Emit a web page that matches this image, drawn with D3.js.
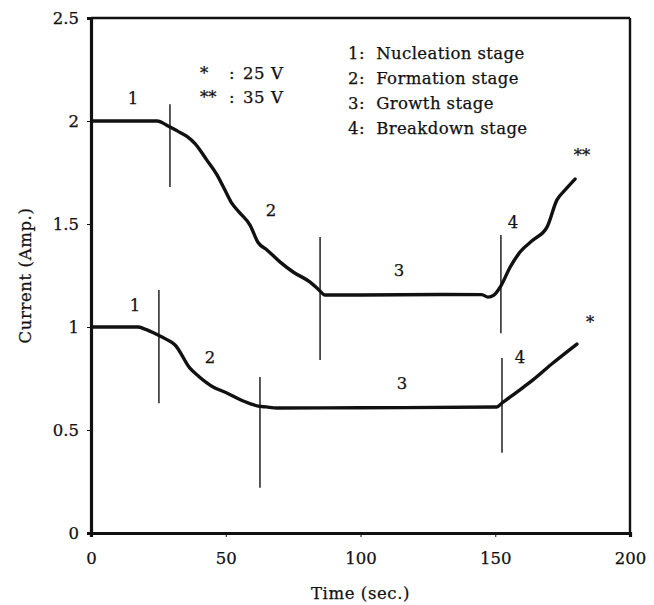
<!DOCTYPE html>
<html>
<head>
<meta charset="utf-8">
<script src="https://cdn.jsdelivr.net/npm/d3@7"></script>
<style>
  html, body { margin: 0; padding: 0; background: #fff; }
  svg { display: block; }
  text { font-family: "DejaVu Serif", "Liberation Serif", serif; fill: #111; stroke: #111; stroke-width: 0.25; }
</style>
</head>
<body>
<svg id="chart" width="654" height="605"></svg>
<script>
// Anodizing current vs time at two voltages
const xTicks = [0, 50, 100, 150, 200];
const yTicks = [0, 0.5, 1, 1.5, 2, 2.5];
const yTickLabels = ["0", "0.5", "1", "1.5", "2", "2.5"];

// 35 V run (time s, current A)
const series35V = [
  [0.5, 2.0], [24.5, 2.0], [28.6, 1.976], [32, 1.952], [35.6, 1.925], [38.6, 1.89],
  [43, 1.81], [46.7, 1.74], [49.7, 1.665], [52.3, 1.6], [55.3, 1.553], [59, 1.495],
  [62, 1.41], [65.3, 1.374], [70.1, 1.316], [75, 1.267], [81.3, 1.218], [84.6, 1.18],
  [86.8, 1.155], [100, 1.155], [130, 1.158], [145, 1.157], [147.3, 1.145],
  [149.5, 1.155], [152.1, 1.2], [155.5, 1.29], [159.2, 1.364], [164, 1.422],
  [169.2, 1.485], [172.9, 1.617], [175.9, 1.665], [179.6, 1.718]
];

// 25 V run (time s, current A)
const series25V = [
  [0.7, 1.0], [17.4, 1.0], [20, 0.99], [24.9, 0.961], [28, 0.94], [31.2, 0.913],
  [36.7, 0.8], [40, 0.76], [45.3, 0.709], [50.4, 0.68], [56.5, 0.641], [62, 0.616],
  [65, 0.612], [69, 0.607], [100, 0.608], [150.6, 0.612], [152.5, 0.631],
  [158, 0.684], [164, 0.743], [171.4, 0.825], [180.3, 0.917]
];

// stage boundaries: time and current span of each marker
const stageBounds = [
  { t: 29.3, from: 2.081, to: 1.68 },
  { t: 85, from: 1.437, to: 0.84 },
  { t: 152.1, from: 1.447, to: 0.97 },
  { t: 25.2, from: 1.18, to: 0.63 },
  { t: 62.7, from: 0.757, to: 0.22 },
  { t: 152.5, from: 0.85, to: 0.39 }
];

// stage numbers and run markers placed on the curves
const stageNumbers = [
  { text: "1", t: 15.6, v: 2.11 }, { text: "2", t: 66.8, v: 1.568 },
  { text: "3", t: 114.3, v: 1.277 }, { text: "4", t: 156.6, v: 1.51 },
  { text: "1", t: 16.3, v: 1.107 }, { text: "2", t: 44.2, v: 0.854 },
  { text: "3", t: 115.4, v: 0.728 }, { text: "4", t: 159.2, v: 0.854 }
];
const runMarks = [
  { text: "**", t: 182.2, v: 1.85 },
  { text: "*", t: 185.2, v: 1.04 }
];

const voltageKey = [
  { mark: "*", label: "25 V" },
  { mark: "**", label: "35 V" }
];
const stageKey = [
  "1:  Nucleation stage",
  "2:  Formation stage",
  "3:  Growth stage",
  "4:  Breakdown stage"
];

const FS = 16.5;
const svg = d3.select("#chart");
const margin = { left: 91, right: 24, top: 18, bottom: 72 };
const W = 654, H = 605;

const x = d3.scaleLinear().domain([0, 200]).range([margin.left, W - margin.right]);
const y = d3.scaleLinear().domain([0, 2.5]).range([H - margin.bottom, margin.top]);

// frame: heavy left/bottom axes, lighter top/right edges
svg.append("line").attr("x1", x(200)).attr("x2", x(200)).attr("y1", y(2.5)).attr("y2", y(0))
  .attr("stroke", "#111").attr("stroke-width", 2.4);
svg.append("line").attr("x1", x(0)).attr("x2", x(200)).attr("y1", y(2.5)).attr("y2", y(2.5))
  .attr("stroke", "#111").attr("stroke-width", 2.6);

const xAxis = d3.axisBottom(x).tickValues(xTicks).tickSize(4).tickPadding(15)
  .tickFormat(d3.format("d"));
const gx = svg.append("g").attr("transform", `translate(0,${y(0)})`).call(xAxis);
gx.select(".domain").attr("stroke", "#111").attr("stroke-width", 3.2);
gx.selectAll(".tick line").attr("stroke", "#111").attr("stroke-width", 1);
gx.selectAll(".tick text").attr("font-size", FS).attr("font-family", "DejaVu Serif")
  .attr("fill", "#111");

const yAxis = d3.axisLeft(y).tickValues(yTicks).tickSize(4).tickPadding(8)
  .tickFormat((d, i) => yTickLabels[i]);
const gy = svg.append("g").attr("transform", `translate(${x(0)},0)`).call(yAxis);
gy.select(".domain").attr("stroke", "#111").attr("stroke-width", 3.2);
gy.selectAll(".tick line").attr("stroke", "#111").attr("stroke-width", 1);
gy.selectAll(".tick text").attr("font-size", FS).attr("font-family", "DejaVu Serif")
  .attr("fill", "#111");

// axis titles
svg.append("text").attr("x", x(100)).attr("y", 599).attr("text-anchor", "middle")
  .attr("font-size", FS).attr("letter-spacing", 0.6).text("Time (sec.)");
svg.append("text").attr("transform", `translate(31,${y(1.25)}) rotate(-90)`)
  .attr("text-anchor", "middle").attr("font-size", FS).attr("letter-spacing", 0.6)
  .text("Current (Amp.)");

// stage boundary markers
svg.append("g").selectAll("line").data(stageBounds).join("line")
  .attr("x1", d => x(d.t)).attr("x2", d => x(d.t))
  .attr("y1", d => y(d.from)).attr("y2", d => y(d.to))
  .attr("stroke", "#111").attr("stroke-width", 1.4);

// current curves
const line = d3.line().x(d => x(d[0])).y(d => y(d[1])).curve(d3.curveMonotoneX);
svg.append("g").selectAll("path").data([series35V, series25V]).join("path")
  .attr("d", line).attr("fill", "none").attr("stroke", "#111")
  .attr("stroke-width", 3.4).attr("stroke-linecap", "round").attr("stroke-linejoin", "round");

// stage numbers
svg.append("g").selectAll("text").data(stageNumbers).join("text")
  .attr("x", d => x(d.t)).attr("y", d => y(d.v) + 6)
  .attr("text-anchor", "middle").attr("font-size", FS).text(d => d.text);

// run markers at curve ends
svg.append("g").selectAll("text").data(runMarks).join("text")
  .attr("x", d => x(d.t)).attr("y", d => y(d.v) + 9)
  .attr("text-anchor", "middle").attr("font-size", FS).text(d => d.text);

// voltage key
const vk = svg.append("g").selectAll("g").data(voltageKey).join("g")
  .attr("transform", (d, i) => `translate(0,${79 + i * 24})`);
vk.append("text").attr("x", 200).attr("font-size", FS).text(d => d.mark);
vk.append("text").attr("x", 229).attr("font-size", FS).text(":");
vk.append("text").attr("x", 243).attr("font-size", FS).attr("letter-spacing", 0.6)
  .text(d => d.label.replace(" ", "\u00a0"));

// stage key
svg.append("g").selectAll("text").data(stageKey).join("text")
  .attr("x", 348).attr("y", (d, i) => 59 + i * 25)
  .attr("font-size", FS).attr("letter-spacing", 0.4)
  .style("white-space", "pre").text(d => d);
</script>
</body>
</html>
